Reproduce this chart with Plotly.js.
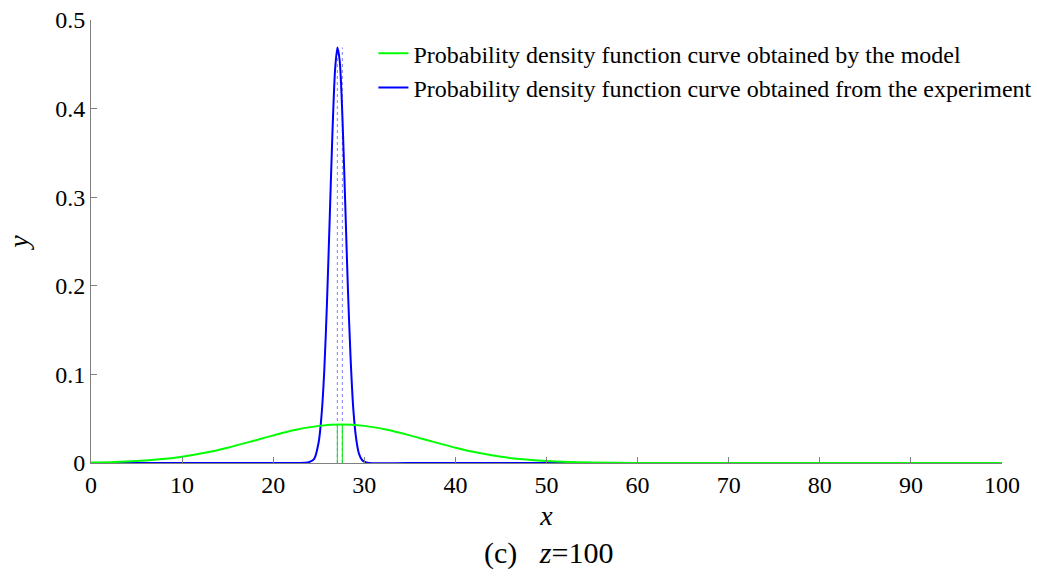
<!DOCTYPE html>
<html>
<head>
<meta charset="utf-8">
<script src="https://cdn.plot.ly/plotly-3.0.1.min.js"></script>
<style>html,body{margin:0;padding:0;background:#fff;}#chart{width:1037px;height:576px;}</style>
</head>
<body>
<div id="chart"></div>
<script>
// Model curve (green)
const modelX = [0, 2.5, 5, 7.5, 10, 12.5, 15, 17.5, 20, 22.5, 25, 27.5, 30, 32.5, 35, 37.5, 40, 42.5, 45, 47.5, 50, 52.5, 55, 60, 70, 80, 90, 100];
const modelY = [0.0005, 0.0011, 0.0022, 0.0041, 0.0071, 0.0115, 0.0173, 0.0241, 0.0312, 0.0375, 0.0419, 0.0435, 0.0419, 0.0375, 0.0312, 0.0241, 0.0173, 0.0115, 0.0071, 0.0041, 0.0022, 0.0011, 0.0005, 0.0001, 0, 0, 0, 0];
// Experiment curve (blue)
const expX = [0, 10, 20, 23.5, 24.0, 24.5, 25.0, 25.3, 25.6, 25.9, 26.2, 26.5, 26.8, 27.05, 27.3, 27.6, 27.9, 28.2, 28.5, 28.8, 29.1, 29.4, 29.8, 30.3, 35, 50, 100];
const expY = [0, 0, 0, 0.0003, 0.0012, 0.0047, 0.024, 0.053, 0.103, 0.18, 0.275, 0.372, 0.445, 0.469, 0.454, 0.39, 0.295, 0.197, 0.117, 0.06, 0.028, 0.011, 0.0028, 0.0004, 0, 0, 0];
// Mean markers
const meanX = [27.04, 27.59];
const modelMeanTop = 0.0435;
const expMeanTop = 0.469;

const legendNames = [
  "Probability density function curve obtained by the model",
  "Probability density function curve obtained from the experiment"
];

const font = "'Liberation Serif', 'Times New Roman', serif";
const traces = [];
meanX.forEach(m => {
  traces.push({x: [m, m], y: [0, expMeanTop], mode: "lines", line: {color: "#8080ff", width: 1, dash: "dot"}, showlegend: false, hoverinfo: "skip"});
  traces.push({x: [m, m], y: [0, modelMeanTop], mode: "lines", line: {color: "#00ee00", width: 1}, showlegend: false, hoverinfo: "skip"});
});
traces.push({x: expX, y: expY, mode: "lines", name: legendNames[1], line: {color: "#0000ff", width: 2, shape: "spline", smoothing: 0.8}, showlegend: true, legendrank: 2});
traces.push({x: modelX, y: modelY, mode: "lines", name: legendNames[0], line: {color: "#00ff00", width: 2, shape: "spline"}, showlegend: true, legendrank: 1});

const layout = {
  width: 1037, height: 576,
  margin: {l: 91, r: 35, t: 20, b: 113, autoexpand: false},
  paper_bgcolor: "#ffffff", plot_bgcolor: "#ffffff",
  font: {family: font, color: "#000000", size: 24},
  showlegend: true,
  legend: {x: 0.31, y: 0.975, xanchor: "left", yanchor: "top", bgcolor: "rgba(0,0,0,0)", borderwidth: 0,
           font: {family: font, size: 24, color: "#000"}, itemwidth: 30, tracegroupgap: 0, traceorder: "normal"},
  xaxis: {range: [0, 100], tickvals: [0,10,20,30,40,50,60,70,80,90,100], ticks: "inside", ticklen: 6, tickcolor: "#808080",
          showline: true, linecolor: "#808080", linewidth: 1, showgrid: false, zeroline: false, mirror: false,
          tickfont: {family: font, size: 24, color: "#000"},
          title: {text: "<i>x</i>", font: {family: font, size: 28, color: "#000"}, standoff: 8}},
  yaxis: {range: [0, 0.5], tickvals: [0, 0.1, 0.2, 0.3, 0.4, 0.5], ticktext: ["0","0.1","0.2","0.3","0.4","0.5"], ticks: "inside", ticklen: 6, tickcolor: "#808080",
          showline: true, linecolor: "#808080", linewidth: 1, showgrid: false, zeroline: false, mirror: false,
          tickfont: {family: font, size: 24, color: "#000"},
          title: {text: "<i>y</i>", font: {family: font, size: 28, color: "#000"}, standoff: 18}},
  annotations: [{xref: "paper", yref: "paper", x: 0.502, y: -0.203, xanchor: "center", yanchor: "middle", showarrow: false,
                 text: "(c)&nbsp;&nbsp;&nbsp;<i>z</i>=100", font: {family: font, size: 30, color: "#000"}}]
};
Plotly.newPlot("chart", traces, layout, {displayModeBar: false, staticPlot: true});
</script>
</body>
</html>
